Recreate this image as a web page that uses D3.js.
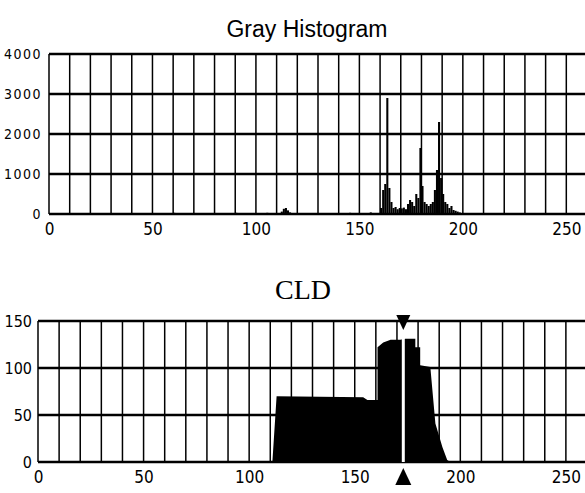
<!DOCTYPE html>
<html>
<head>
<meta charset="utf-8">
<script src="https://cdn.jsdelivr.net/npm/d3@7"></script>
<style>
  body { margin: 0; background: #fff; }
  svg { display: block; }
  .tick text { font-family: "Liberation Sans Narrow", "DejaVu Sans Condensed", sans-serif; fill: #000; }
</style>
</head>
<body>
<svg id="chart" width="585" height="493"></svg>
<script>
// gray histogram: bins with visible counts (all other bins ~0)
var histBins =   [60, 75, 90, 105, 112, 113, 114, 115, 116, 130, 145, 155,
                  160, 161, 162, 163, 164, 165, 166, 167, 168, 169, 170, 171, 172, 173, 174,
                  175, 176, 177, 178, 179, 180, 181, 182, 183, 184, 185, 186, 187, 188, 189,
                  190, 191, 192, 193, 194, 195, 196, 197, 198];
var histCounts = [30, 25, 30, 30, 60, 130, 150, 90, 40, 25, 30, 40,
                  150, 600, 750, 2900, 650, 300, 150, 175, 120, 150, 140, 160, 120, 250, 350,
                  300, 200, 500, 400, 1650, 700, 300, 250, 200, 250, 300, 600, 1100, 2300, 900,
                  500, 300, 250, 150, 200, 100, 80, 60, 40];
var histYTicks = [0, 1000, 2000, 3000, 4000];
var histXTicks = [0, 50, 100, 150, 200, 250];

// CLD curve
var cldX = [0, 111, 113, 154, 156, 160.8, 160.8, 163.5, 167, 171.5, 174, 178.7, 178.7, 181, 181,
            185.8, 188.2, 191.5, 193.8, 195.3, 260];
var cldY = [0, 0, 70, 69, 66, 66, 122, 127, 130, 130, 131, 131, 122, 122, 103,
            101, 41, 16, 2, 0, 0];
var cldYTicks = [0, 50, 100, 150];
var cldXTicks = [0, 50, 100, 150, 200, 250];
var cldMarker = 173;

var svg = d3.select("#chart");
var fmt = d3.format("d");

// ---------- top: gray histogram ----------
var x1 = d3.scaleLinear().domain([0, 260]).range([49, 587]);
var y1 = d3.scaleLinear().domain([0, 4000]).range([214, 54]);

svg.append("text")
    .attr("x", 307).attr("y", 37)
    .attr("text-anchor", "middle")
    .style("font-family", "Liberation Sans, Arial, sans-serif")
    .style("font-size", "23px")
    .text("Gray Histogram");

var g1 = svg.append("g");

g1.selectAll("rect.bar")
    .data(histBins)
    .enter().append("rect")
    .attr("class", "bar")
    .attr("x", function(d) { return x1(d); })
    .attr("width", x1(1) - x1(0))
    .attr("y", function(d, i) { return y1(histCounts[i]); })
    .attr("height", function(d, i) { return y1(0) - y1(histCounts[i]); })
    .attr("fill", "#000");

g1.selectAll("line.vg")
    .data(d3.range(0, 261, 10))
    .enter().append("line")
    .attr("x1", function(d) { return x1(d); })
    .attr("x2", function(d) { return x1(d); })
    .attr("y1", y1(4000)).attr("y2", y1(0))
    .attr("stroke", "#000").attr("stroke-width", 1.5);

g1.selectAll("line.hg")
    .data(histYTicks)
    .enter().append("line")
    .attr("x1", x1(0)).attr("x2", 585)
    .attr("y1", function(d) { return y1(d); })
    .attr("y2", function(d) { return y1(d); })
    .attr("stroke", "#000").attr("stroke-width", 2.6);

var ax1 = svg.append("g")
    .attr("transform", "translate(" + x1(0) + ",0)")
    .call(d3.axisLeft(y1).tickValues(histYTicks).tickFormat(fmt).tickSize(0).tickPadding(7));
ax1.select(".domain").remove();
ax1.selectAll("text").style("font-size", "14px").style("letter-spacing", "1.5px");

var bx1 = svg.append("g")
    .attr("transform", "translate(0," + (y1(0) + 1) + ")")
    .call(d3.axisBottom(x1).tickValues(histXTicks).tickFormat(fmt).tickSize(0).tickPadding(8));
bx1.select(".domain").remove();
bx1.selectAll("text").style("font-size", "17px");

// ---------- bottom: CLD ----------
var x2 = d3.scaleLinear().domain([0, 260]).range([38, 587]);
var y2 = d3.scaleLinear().domain([0, 150]).range([462, 321]);

svg.append("text")
    .attr("x", 303).attr("y", 299)
    .attr("text-anchor", "middle")
    .style("font-family", "Liberation Serif, serif")
    .style("font-size", "28px")
    .text("CLD");

var g2 = svg.append("g");

var area = d3.area()
    .x(function(d) { return x2(d[0]); })
    .y0(y2(0))
    .y1(function(d) { return y2(d[1]); });

g2.append("path")
    .datum(d3.zip(cldX, cldY))
    .attr("d", area)
    .attr("fill", "#000");

g2.selectAll("line.vg")
    .data(d3.range(0, 261, 10))
    .enter().append("line")
    .attr("x1", function(d) { return x2(d); })
    .attr("x2", function(d) { return x2(d); })
    .attr("y1", y2(150)).attr("y2", y2(0))
    .attr("stroke", "#000").attr("stroke-width", 1.5);

g2.selectAll("line.hg")
    .data(cldYTicks)
    .enter().append("line")
    .attr("x1", x2(0)).attr("x2", 585)
    .attr("y1", function(d) { return y2(d); })
    .attr("y2", function(d) { return y2(d); })
    .attr("stroke", "#000").attr("stroke-width", 2.6);

// marker line and arrows
var mx = x2(cldMarker);
g2.append("line")
    .attr("x1", mx).attr("x2", mx)
    .attr("y1", y2(150) + 8).attr("y2", y2(0))
    .attr("stroke", "#fff").attr("stroke-width", 3);

g2.append("path")
    .attr("d", "M" + (mx - 7) + "," + (y2(150) - 6) + "L" + (mx + 7) + "," + (y2(150) - 6) + "L" + mx + "," + (y2(150) + 9) + "Z")
    .attr("fill", "#000");
g2.append("path")
    .attr("d", "M" + mx + "," + (y2(0) + 6) + "L" + (mx + 8) + "," + (y2(0) + 23) + "L" + (mx - 8) + "," + (y2(0) + 23) + "Z")
    .attr("fill", "#000");

var ax2 = svg.append("g")
    .attr("transform", "translate(" + x2(0) + ",0)")
    .call(d3.axisLeft(y2).tickValues(cldYTicks).tickFormat(fmt).tickSize(0).tickPadding(6));
ax2.select(".domain").remove();
ax2.selectAll("text").style("font-size", "16px");

var bx2 = svg.append("g")
    .attr("transform", "translate(0," + (y2(0) + 1) + ")")
    .call(d3.axisBottom(x2).tickValues(cldXTicks).tickFormat(fmt).tickSize(0).tickPadding(8));
bx2.select(".domain").remove();
bx2.selectAll("text").style("font-size", "17px");
</script>
</body>
</html>
